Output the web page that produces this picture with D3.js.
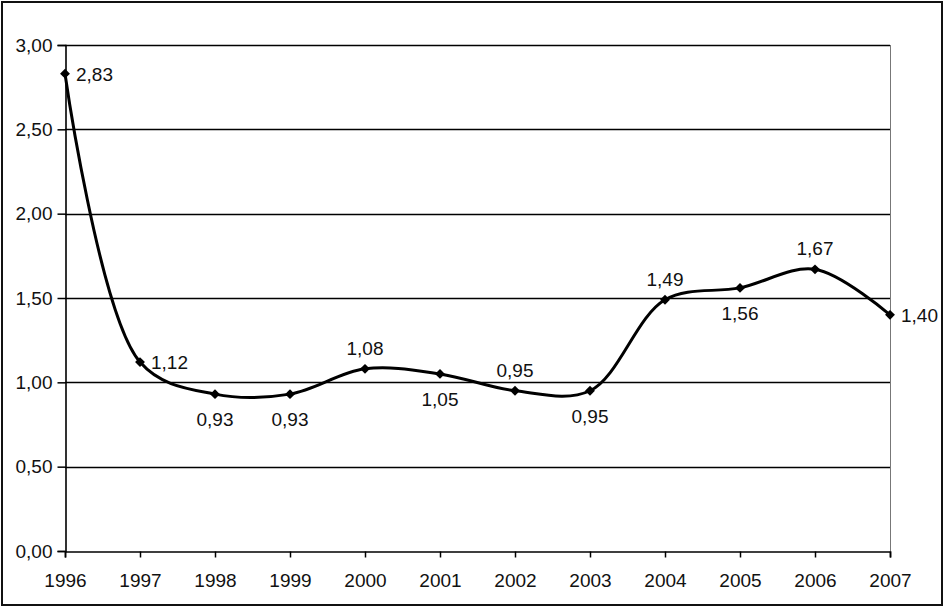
<!DOCTYPE html>
<html>
<head>
<meta charset="utf-8">
<script src="https://cdn.jsdelivr.net/npm/d3@7/dist/d3.min.js"></script>
<style>
  body { margin: 0; background: #fff; }
  svg { display: block; font-family: "Liberation Sans", Arial, sans-serif; }
</style>
</head>
<body>
<svg id="chart" width="945" height="608"></svg>
<script>
// data
const years = [1996, 1997, 1998, 1999, 2000, 2001, 2002, 2003, 2004, 2005, 2006, 2007];
const values = [2.83, 1.12, 0.93, 0.93, 1.08, 1.05, 0.95, 0.95, 1.49, 1.56, 1.67, 1.40];
// where each value label sits relative to its marker
const labelSide = ["right", "right", "below", "below", "above", "below", "above", "below", "above", "below", "above", "right"];
const yTicks = [0, 0.5, 1, 1.5, 2, 2.5, 3];

const svg = d3.select("#chart");
const W = 945, H = 608;
const m = {left: 65, right: 55, top: 45, bottom: 57};
const fontSize = "19px";

// decimal comma formatting
const loc = d3.formatLocale({decimal: ",", thousands: ".", grouping: [3], currency: ["", ""]});
const fmt = loc.format(".2f");

const x = d3.scaleLinear().domain([1996, 2007]).range([m.left, W - m.right]);
const y = d3.scaleLinear().domain([0, 3]).range([H - m.bottom, m.top]);

// outer frame
svg.append("rect")
    .attr("x", 2).attr("y", 2)
    .attr("width", W - 5).attr("height", H - 5)
    .attr("fill", "none").attr("stroke", "#111").attr("stroke-width", 2);

// gridlines
svg.append("g").selectAll("line")
    .data(yTicks.filter(d => d > 0))
    .join("line")
    .attr("x1", m.left).attr("x2", W - m.right)
    .attr("y1", d => Math.round(y(d)) + 0.5).attr("y2", d => Math.round(y(d)) + 0.5)
    .attr("stroke", "#000").attr("stroke-width", 1.4);

// right side of the plot box
svg.append("line")
    .attr("x1", W - m.right + 0.5).attr("x2", W - m.right + 0.5)
    .attr("y1", m.top).attr("y2", H - m.bottom)
    .attr("stroke", "#777");

// axes
const yAxis = d3.axisLeft(y).tickValues(yTicks).tickSize(8).tickPadding(5).tickFormat(fmt);
const gy = svg.append("g").attr("transform", `translate(${m.left + 0.5},0)`).call(yAxis);

const xAxis = d3.axisBottom(x).tickValues(years).tickSize(6).tickPadding(16).tickFormat(d3.format("d"));
const gx = svg.append("g").attr("transform", `translate(0,${H - m.bottom + 0.5})`).call(xAxis);

[gy, gx].forEach(g => {
    g.select(".domain").attr("stroke", "#000").attr("stroke-width", 1.6);
    g.selectAll(".tick line").attr("stroke", "#000").attr("stroke-width", 1.5);
    g.selectAll(".tick text").attr("fill", "#111").style("font-size", fontSize)
        .style("font-family", "'Liberation Sans', Arial, sans-serif");
});

const pts = years.map((yr, i) => ({yr, v: values[i], side: labelSide[i]}));

// smoothed series line
const line = d3.line()
    .x(d => x(d.yr)).y(d => y(d.v))
    .curve(d3.curveCatmullRom.alpha(0.5));

svg.append("path")
    .datum(pts)
    .attr("d", line)
    .attr("fill", "none").attr("stroke", "#000").attr("stroke-width", 3)
    .attr("stroke-linejoin", "round");

// diamond markers
svg.append("g").selectAll("path")
    .data(pts)
    .join("path")
    .attr("transform", d => `translate(${x(d.yr)},${y(d.v)}) rotate(45)`)
    .attr("d", "M-3.5,-3.5H3.5V3.5H-3.5Z")
    .attr("fill", "#000");

// value labels
const off = {
    right: {dx: 11, dy: 7, anchor: "start"},
    above: {dx: 0, dy: -14, anchor: "middle"},
    below: {dx: 0, dy: 32, anchor: "middle"}
};

svg.append("g").selectAll("text")
    .data(pts)
    .join("text")
    .attr("x", d => x(d.yr) + off[d.side].dx)
    .attr("y", d => y(d.v) + off[d.side].dy)
    .attr("text-anchor", d => off[d.side].anchor)
    .attr("fill", "#111")
    .style("font-size", fontSize)
    .text(d => fmt(d.v));
</script>
</body>
</html>
